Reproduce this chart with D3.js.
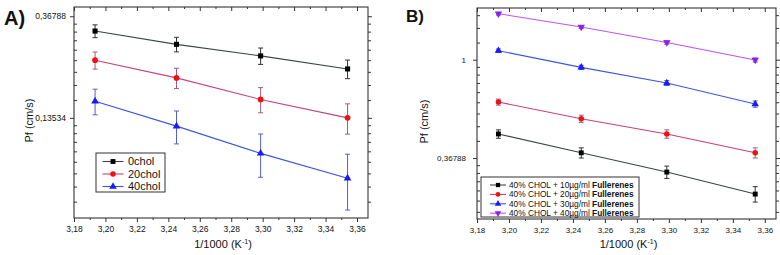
<!DOCTYPE html>
<html>

<head>
  <title>Pf vs 1/T</title>
  <style>
    body,
    html {
      margin: 0;
      padding: 0;
      background: #fff;
    }

    svg text {
      font-family: "Liberation Sans", Arial, sans-serif;
      fill: #111;
    }
  </style>
</head>

<body>

  <svg id="svg" width="780" height="255"></svg>

  <script src="https://d3js.org/d3.v7.min.js"></script>
  <script>
    // 1/T values (x1000, K^-1) for 40, 35, 30, 25 C
    const invTemp = [3.1934, 3.2452, 3.2987, 3.3540]
    const xTicks = [3.18, 3.20, 3.22, 3.24, 3.26, 3.28, 3.30, 3.32, 3.34, 3.36]
    const xMinorTicks = [3.19, 3.21, 3.23, 3.25, 3.27, 3.29, 3.31, 3.33, 3.35]

    // panel A
    const namesA = ["0chol", "20chol", "40chol"]
    const pf0chol = [0.318, 0.279, 0.249, 0.219]
    const pf20chol = [0.2386, 0.2005, 0.1622, 0.1353]
    const pf40chol = [0.1594, 0.1247, 0.0954, 0.0746]
    const errA = [0.02, 0.02, 0.02, 0.02]
    const yTicksA = [Math.exp(-2), Math.exp(-1)]

    // panel B
    const namesB = ["40% CHOL + 10µg/ml", "40% CHOL + 20µg/ml", "40% CHOL + 30µg/ml", "40% CHOL + 40µg/ml"]
    const pf10 = [0.470, 0.388, 0.319, 0.255]
    const pf20 = [0.650, 0.549, 0.470, 0.388]
    const pf30 = [1.096, 0.925, 0.789, 0.637]
    const pf40 = [1.597, 1.395, 1.192, 0.997]
    const errB = [0.02, 0.02, 0.02, 0.02]
    const yTicksB = [Math.exp(-1), 1]

    const styles = {
      black: { marker: "#000", line: "#3c4646", err: "#333", shape: d3.symbolSquare },
      red: { marker: "#ee1111", line: "#c8407c", err: "#a45a80", shape: d3.symbolCircle },
      blue: { marker: "#1a1aff", line: "#3a56e0", err: "#5560c8", shape: d3.symbolTriangle },
      purple: { marker: "#8a22e8", line: "#c252f2", err: "#8a40c0", shape: "down" }
    }

    const svg = d3.select("#svg")

    // linear minor ticks between powers of e (Origin style)
    function minorLogE(domain) {
      const lo = Math.log(domain[0]), hi = Math.log(domain[1])
      const out = []
      for (let k = Math.floor(lo); k < Math.ceil(hi); k++) {
        const a = Math.exp(k), b = Math.exp(k + 1)
        for (let i = 1; i <= 8; i++) {
          const v = a + i * (b - a) / 9
          if (v > domain[0] && v < domain[1]) out.push(v)
        }
      }
      return out
    }

    function fmtY(v) {
      if (Math.abs(v - 1) < 1e-9) return "1"
      return v.toFixed(5).replace(".", ",")
    }

    function marker(g, st, x, y, size) {
      if (st.shape === "down") {
        g.append("path")
          .attr("d", d3.symbol().type(d3.symbolTriangle).size(size)())
          .attr("transform", `translate(${x},${y}) rotate(180)`)
          .attr("fill", st.marker)
      } else {
        g.append("path")
          .attr("d", d3.symbol().type(st.shape).size(size)())
          .attr("transform", `translate(${x},${y})`)
          .attr("fill", st.marker)
      }
    }

    function drawPanel(p) {
      const xScale = d3.scaleLinear()
        .domain([3.18, 3.367])
        .range([p.left, p.right])
      const yScale = d3.scaleLog()
        .base(Math.E)
        .domain(p.yDomain)
        .range([p.bottom, p.top])

      const g = svg.append("g")
      const minors = minorLogE(p.yDomain)

      // axes
      const ax = (axis, tr) => g.append("g")
        .attr("transform", tr)
        .call(axis)
        .call(s => s.select(".domain").remove())
        .call(s => s.selectAll("line").attr("stroke", "#333"))

      ax(d3.axisBottom(xScale).tickValues(xTicks).tickSize(4).tickPadding(4)
        .tickFormat(d => d.toFixed(2).replace(".", ",")), `translate(0,${p.bottom})`)
        .selectAll("text").attr("font-size", p.tickFont).attr("fill", "#111")
      ax(d3.axisBottom(xScale).tickValues(xMinorTicks).tickSize(2).tickFormat(""), `translate(0,${p.bottom})`)
      ax(d3.axisTop(xScale).tickValues(xTicks).tickSize(-4).tickFormat(""), `translate(0,${p.top})`)
      ax(d3.axisTop(xScale).tickValues(xMinorTicks).tickSize(-2).tickFormat(""), `translate(0,${p.top})`)

      ax(d3.axisLeft(yScale).tickValues(p.yTicks).tickSize(4).tickPadding(p.yPad).tickFormat(fmtY), `translate(${p.left},0)`)
        .selectAll("text").attr("font-size", p.tickFont).attr("fill", "#111")
      ax(d3.axisLeft(yScale).tickValues(minors).tickSize(-3).tickFormat(""), `translate(${p.left},0)`)
      ax(d3.axisRight(yScale).tickValues(p.yTicks).tickSize(4).tickFormat(""), `translate(${p.right},0)`)
      ax(d3.axisRight(yScale).tickValues(minors).tickSize(3).tickFormat(""), `translate(${p.right},0)`)

      g.append("rect")
        .attr("x", p.left)
        .attr("y", p.top)
        .attr("width", p.right - p.left)
        .attr("height", p.bottom - p.top)
        .attr("fill", "none")
        .attr("stroke", "#333")
        .attr("stroke-width", 1.1)

      // series
      const lineGen = d3.line()
        .x((d, i) => xScale(invTemp[i]))
        .y(d => yScale(d))

      p.series.forEach(s => {
        const st = styles[s.style]
        g.append("path")
          .attr("d", lineGen(s.values))
          .attr("fill", "none")
          .attr("stroke", st.line)
          .attr("stroke-width", 1.1)

        s.values.forEach((v, i) => {
          const x = xScale(invTemp[i])
          const y1 = yScale(v + s.err[i]), y2 = yScale(v - s.err[i])
          g.append("path")
            .attr("d", `M${x},${y1}V${y2}M${x - 2.5},${y1}H${x + 2.5}M${x - 2.5},${y2}H${x + 2.5}`)
            .attr("stroke", st.err)
            .attr("stroke-width", 1)
            .attr("fill", "none")
          marker(g, st, x, yScale(v), p.markSize)
        })
      })

      // legend
      const L = p.legend
      g.append("rect")
        .attr("x", L.x).attr("y", L.y)
        .attr("width", L.w).attr("height", L.h)
        .attr("fill", "#fff")
        .attr("stroke", "#333")
        .attr("stroke-width", 1)
      p.series.forEach((s, i) => {
        const st = styles[s.style]
        const cy = L.y + L.first + i * L.step
        g.append("line")
          .attr("x1", L.x + L.l1).attr("x2", L.x + L.l2)
          .attr("y1", cy).attr("y2", cy)
          .attr("stroke", st.line)
          .attr("stroke-width", 1.1)
        marker(g, st, L.x + (L.l1 + L.l2) / 2, cy, L.markSize)
        const t = g.append("text")
          .attr("x", L.x + L.tx)
          .attr("y", cy)
          .attr("dy", "0.35em")
          .attr("font-size", L.font)
        t.append("tspan").text(s.name)
        if (L.bold) t.append("tspan").attr("font-weight", "bold").text(" " + L.bold)
      })

      // titles
      svg.append("text")
        .attr("transform", `translate(${p.yTitleX},${(p.top + p.bottom) / 2 + 8}) rotate(-90)`)
        .attr("text-anchor", "middle")
        .attr("font-size", 11)
        .text("Pf (cm/s)")

      const xt = svg.append("text")
        .attr("x", (p.left + p.right) / 2 + 2)
        .attr("y", 248)
        .attr("text-anchor", "middle")
        .attr("font-size", 11)
      xt.append("tspan").text("1/1000 (K")
      xt.append("tspan").attr("font-size", 7).attr("dy", -4).text("-1")
      xt.append("tspan").attr("dy", 4).text(")")

      svg.append("text")
        .attr("x", p.labelX)
        .attr("y", p.labelY)
        .attr("font-size", p.labelFont)
        .attr("font-weight", "bold")
        .attr("fill", "#000")
        .text(p.label)
    }

    drawPanel({
      label: "A)", labelX: 4, labelY: 25, labelFont: 20,
      left: 74, right: 368, top: 7, bottom: 218,
      yDomain: [Math.exp(-2.986), Math.exp(-0.909)],
      yTicks: yTicksA, yPad: 4, tickFont: 8.5,
      yTitleX: 33, markSize: 26,
      series: [
        { name: namesA[0], values: pf0chol, err: errA, style: "black" },
        { name: namesA[1], values: pf20chol, err: errA, style: "red" },
        { name: namesA[2], values: pf40chol, err: errA, style: "blue" }
      ],
      legend: { x: 96, y: 153, w: 69, h: 39, first: 8.5, step: 12.5, l1: 6.5, l2: 27.5, tx: 32, font: 11, markSize: 24 }
    })

    drawPanel({
      label: "B)", labelX: 406, labelY: 22, labelFont: 17,
      left: 477, right: 776, top: 8, bottom: 219,
      yDomain: [Math.exp(-1.62), Math.exp(0.526)],
      yTicks: yTicksB, yPad: 7, tickFont: 8,
      yTitleX: 428, markSize: 24,
      series: [
        { name: namesB[0], values: pf10, err: errB, style: "black" },
        { name: namesB[1], values: pf20, err: errB, style: "red" },
        { name: namesB[2], values: pf30, err: errB, style: "blue" },
        { name: namesB[3], values: pf40, err: errB, style: "purple" }
      ],
      legend: { x: 481, y: 177, w: 158, h: 40, first: 8, step: 9.4, l1: 9, l2: 25, tx: 28, font: 8.3, markSize: 18, bold: "Fullerenes" }
    })
  </script>
</body>

</html>
